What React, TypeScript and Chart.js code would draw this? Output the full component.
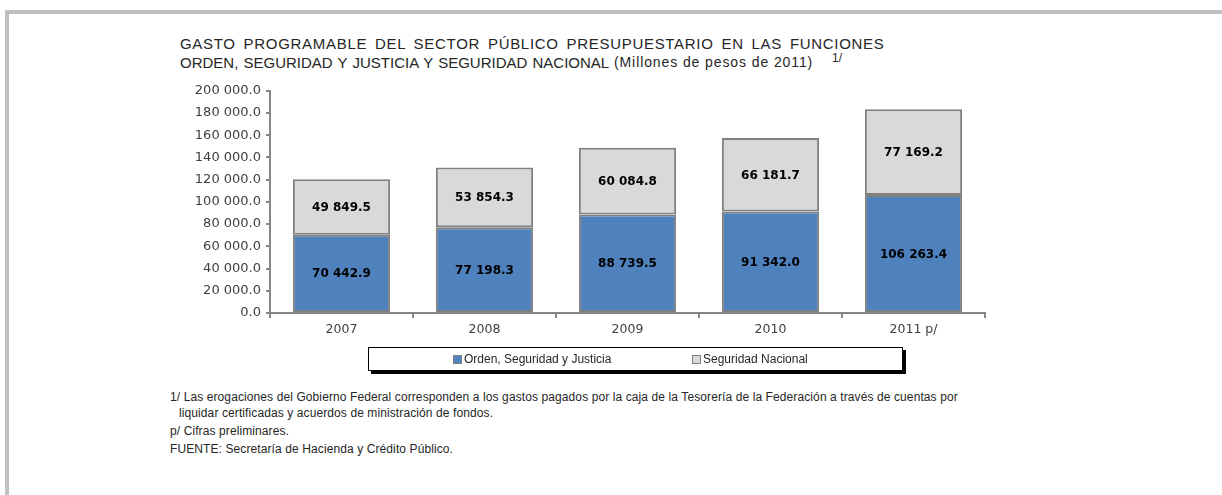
import React, { useEffect, useRef } from "react";
import { Chart, registerables } from "chart.js";

Chart.register(...registerables);

const categories = ["2007", "2008", "2009", "2010", "2011 p/"];
const ordenSeguridadJusticia = [70442.9, 77198.3, 88739.5, 91342.0, 106263.4];
const seguridadNacional = [49849.5, 53854.3, 60084.8, 66181.7, 77169.2];
const seriesNames = ["Orden, Seguridad y Justicia", "Seguridad Nacional"];
const seriesColors = ["#4F81BD", "#D9D9D9"];
const yMin = 0;
const yMax = 200000;
const yStep = 20000;

const titleLines = [
  "GASTO PROGRAMABLE DEL SECTOR PÚBLICO PRESUPUESTARIO EN LAS FUNCIONES",
  "ORDEN, SEGURIDAD Y JUSTICIA Y SEGURIDAD NACIONAL",
];
const titleUnits = "(Millones de pesos de 2011)";
const notes = [
  "1/ Las erogaciones del Gobierno Federal corresponden a los gastos pagados por la caja de la Tesorería de la Federación a través de cuentas por",
  "liquidar certificadas y acuerdos de ministración de fondos.",
  "p/ Cifras preliminares.",
  "FUENTE: Secretaría de Hacienda y Crédito Público.",
];

function fmt(v: number): string {
  const [i, d] = Number(v).toFixed(1).split(".");
  return i.replace(/\B(?=(\d{3})+(?!\d))/g, " ") + "." + d;
}

const segLabels = {
  id: "segLabels",
  afterDatasetsDraw(chart: any) {
    const ctx = chart.ctx;
    ctx.save();
    ctx.font = "bold 12px 'DejaVu Sans'";
    ctx.fillStyle = "#000";
    ctx.textAlign = "center";
    ctx.textBaseline = "middle";
    chart.data.datasets.forEach((ds: any, di: number) => {
      const meta = chart.getDatasetMeta(di);
      meta.data.forEach((el: any, i: number) => {
        const p = el.getProps(["x", "y", "base"], true);
        ctx.fillText(fmt(ds.data[i]), p.x, (p.y + p.base) / 2 + 1);
      });
    });
    ctx.restore();
  },
};

export default function App() {
  const ref = useRef<HTMLCanvasElement>(null);

  useEffect(() => {
    if (!ref.current) return;
    const axisColor = "#868686";
    const chart = new Chart(ref.current, {
      type: "bar",
      data: {
        labels: categories,
        datasets: [
          {
            label: seriesNames[0],
            data: ordenSeguridadJusticia,
            backgroundColor: seriesColors[0],
            borderColor: "#808080",
            borderWidth: 2,
            borderSkipped: false,
            barPercentage: 0.68,
            categoryPercentage: 1,
          },
          {
            label: seriesNames[1],
            data: seguridadNacional,
            backgroundColor: seriesColors[1],
            borderColor: "#808080",
            borderWidth: 2,
            borderSkipped: false,
            barPercentage: 0.68,
            categoryPercentage: 1,
          },
        ],
      },
      options: {
        animation: false,
        responsive: false,
        maintainAspectRatio: false,
        devicePixelRatio: 1,
        layout: { padding: { top: 10, right: 15, left: 0, bottom: 0 } },
        plugins: {
          legend: { display: false },
          tooltip: { enabled: false },
          title: { display: false },
        },
        scales: {
          x: {
            stacked: true,
            grid: {
              offset: true,
              drawOnChartArea: false,
              drawTicks: true,
              tickLength: 5,
              color: axisColor,
              lineWidth: 2,
            },
            border: { color: axisColor, width: 2 },
            ticks: {
              color: "#404040",
              font: { family: "'DejaVu Sans'", size: 12.5 },
              padding: 4,
              maxRotation: 0,
            },
            afterFit: (s: any) => {
              s.height = 45;
            },
          },
          y: {
            stacked: true,
            min: yMin,
            max: yMax,
            ticks: {
              stepSize: yStep,
              callback: (v: any) => fmt(v),
              color: "#404040",
              font: { family: "'DejaVu Sans'", size: 13 },
              padding: 5,
            },
            grid: {
              drawOnChartArea: false,
              tickLength: 4,
              color: axisColor,
              lineWidth: 2,
            },
            border: { color: axisColor, width: 2 },
            afterFit: (s: any) => {
              s.width = 110;
            },
          },
        },
      },
      plugins: [segLabels],
    });
    return () => chart.destroy();
  }, []);

  const textFont = "'Liberation Sans', Arial, sans-serif";

  return (
    <div
      style={{
        position: "absolute",
        left: 0,
        top: 0,
        width: 1222,
        height: 495,
        background: "#fff",
        overflow: "hidden",
        fontFamily: textFont,
        color: "#262626",
      }}
    >
      <div style={{ position: "absolute", left: 5, top: 10, width: 1217, height: 4, background: "#c0c0c0" }} />
      <div style={{ position: "absolute", left: 5, top: 10, width: 4, height: 485, background: "#c0c0c0" }} />

      <div
        style={{
          position: "absolute",
          left: 180,
          top: 34,
          fontSize: 15,
          lineHeight: "19px",
          whiteSpace: "nowrap",
          wordSpacing: 3,
          letterSpacing: 0.7,
        }}
      >
        {titleLines[0]}
      </div>
      <div
        style={{
          position: "absolute",
          left: 180,
          top: 53,
          fontSize: 15,
          lineHeight: "19px",
          whiteSpace: "nowrap",
          wordSpacing: 1,
          letterSpacing: 0,
        }}
      >
        {titleLines[1]}
      </div>
      <div
        style={{
          position: "absolute",
          left: 614,
          top: 53,
          fontSize: 14,
          lineHeight: "19px",
          whiteSpace: "nowrap",
          letterSpacing: 0.9,
        }}
      >
        {titleUnits}
      </div>
      <div style={{ position: "absolute", left: 832, top: 50, fontSize: 12, lineHeight: "16px" }}>1/</div>

      <canvas
        ref={ref}
        width={840}
        height={280}
        style={{ position: "absolute", left: 160, top: 78, width: 840, height: 280 }}
      />

      <div
        style={{
          position: "absolute",
          left: 368,
          top: 347,
          width: 533,
          height: 22,
          border: "1px solid #000",
          boxShadow: "3px 3px 0 #000",
          background: "#fff",
          fontSize: 12,
        }}
      >
        {seriesNames.map((n, i) => (
          <div
            key={n}
            style={{
              position: "absolute",
              left: i === 0 ? 84 : 323,
              top: 4,
              display: "flex",
              alignItems: "center",
              whiteSpace: "nowrap",
              lineHeight: "14px",
            }}
          >
            <span
              style={{
                display: "inline-block",
                width: 7,
                height: 7,
                background: seriesColors[i],
                border: "1px solid #808080",
                marginRight: 2,
              }}
            />
            {n}
          </div>
        ))}
      </div>

      {notes.map((t, i) => (
        <div
          key={i}
          style={{
            position: "absolute",
            left: i === 1 ? 179 : 170,
            top: [389, 405, 423, 441][i],
            fontSize: 12,
            letterSpacing: 0.1,
            lineHeight: "16px",
            whiteSpace: "nowrap",
          }}
        >
          {t}
        </div>
      ))}
    </div>
  );
}
